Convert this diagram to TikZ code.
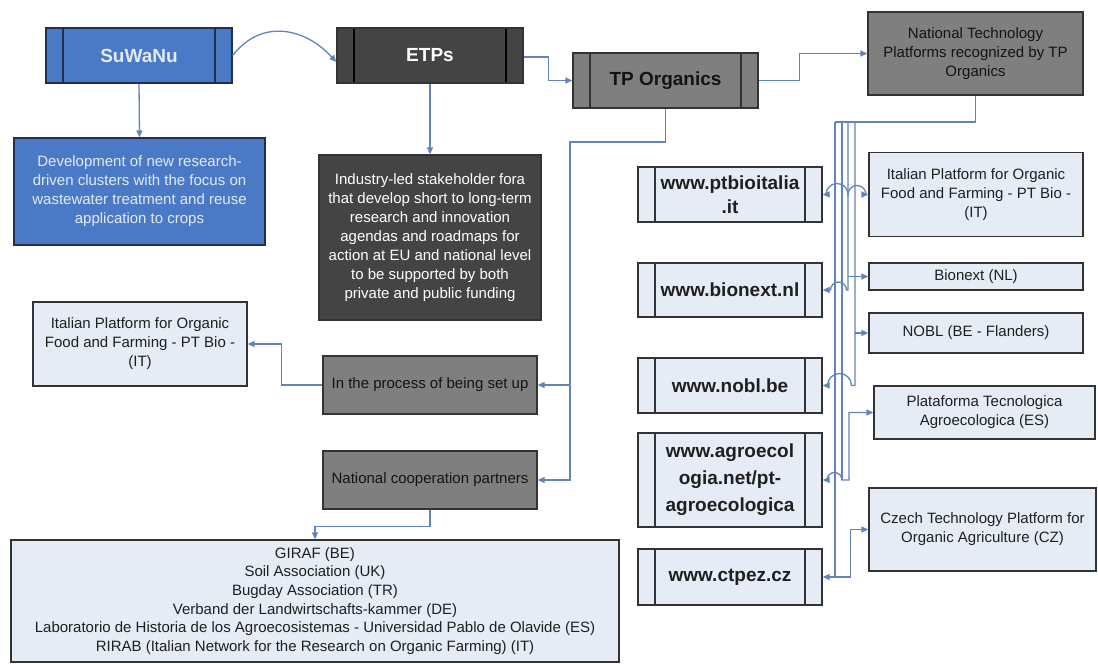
\documentclass[tikz,border=0pt]{standalone}
\usepackage{fontspec}
\setmainfont{Liberation Sans}
\usetikzlibrary{arrows.meta}
\definecolor{cline}{HTML}{6384B9}
\definecolor{cblue}{HTML}{4A7AC6}
\definecolor{cbluetext}{HTML}{E2EAF6}
\definecolor{cnavy}{HTML}{1F2F52}
\definecolor{cdark}{HTML}{444444}
\definecolor{cgray}{HTML}{7F7F7F}
\definecolor{clight}{HTML}{E6ECF5}
\definecolor{cborder}{HTML}{333333}
\begin{document}
\begin{tikzpicture}[x=1pt,y=-1pt,
  >={Triangle[length=7pt,width=6pt]},
  box/.style={draw=cborder, line width=1.3pt, inner sep=0pt, align=center,
    font=\fontsize{15}{19}\selectfont, text=black!88},
  lightbox/.style={box, fill=clight},
  graybox/.style={box, fill=cgray, text=black!92},
  darkbox/.style={box, fill=cdark, text=white!88},
  bluebox/.style={box, fill=cblue, draw=cnavy, text=cbluetext},
  title/.style={font=\fontsize{19}{24}\selectfont\bfseries},
  sub/.style={path picture={
    \draw[#1,line width=1.3pt] ([xshift=17pt]path picture bounding box.north west) -- ([xshift=17pt]path picture bounding box.south west);
    \draw[#1,line width=1.3pt] ([xshift=-17pt]path picture bounding box.north east) -- ([xshift=-17pt]path picture bounding box.south east);}},
  sub/.default=cborder,
  conn/.style={draw=cline, line width=1.3pt}
]
\useasboundingbox[fill=white] (0,0) rectangle (1098,664);

% top row
\node[bluebox, title, sub=cnavy, minimum width=186pt, minimum height=55pt] (suwanu) at (139,55.5) {SuWaNu};
\node[darkbox, title, sub=black, minimum width=186pt, minimum height=55pt] (etps) at (430,55.5) {ETPs};
\node[graybox, title, sub, minimum width=185pt, minimum height=55pt] (tpo) at (665.5,80.5) {TP Organics};
\node[graybox, minimum width=215pt, minimum height=83pt] (ntp) at (975.5,53.5) {National Technology\\Platforms recognized by TP\\Organics};

% left column
\node[bluebox, minimum width=251pt, minimum height=107pt] (dev) at (139.5,191.5) {Development of new research-\\driven clusters with the focus on\\wastewater treatment and reuse\\application to crops};
\node[darkbox, minimum width=222pt, minimum height=165pt] (ind) at (430,237.5) {Industry-led stakeholder fora\\that develop short to long-term\\research and innovation\\agendas and roadmaps for\\action at EU and national level\\to be supported by both\\private and public funding};
\node[lightbox, minimum width=214pt, minimum height=84pt] (itl) at (140,344) {Italian Platform for Organic\\Food and Farming - PT Bio -\\(IT)};
\node[graybox, minimum width=214pt, minimum height=58pt] (proc) at (430,385) {In the process of being set up};
\node[graybox, minimum width=214pt, minimum height=58pt] (ncp) at (430,480) {National cooperation partners};
\node[lightbox, minimum width=608pt, minimum height=122pt, font=\fontsize{15}{18.7}\selectfont] (bot) at (315,601) {GIRAF (BE)\\Soil Association (UK)\\Bugday Association (TR)\\Verband der Landwirtschafts-kammer (DE)\\Laboratorio de Historia de los Agroecosistemas - Universidad Pablo de Olavide (ES)\\RIRAB (Italian Network for the Research on Organic Farming) (IT)};

% websites
\node[lightbox, title, sub, minimum width=184pt, minimum height=55pt] (ptb) at (730,194.5) {www.ptbioitalia\\.it};
\node[lightbox, title, sub, minimum width=184pt, minimum height=54pt] (bnx) at (730,290) {www.bionext.nl};
\node[lightbox, title, sub, minimum width=184pt, minimum height=55pt] (nob) at (730,385.5) {www.nobl.be};
\node[lightbox, title, sub, minimum width=184pt, minimum height=94pt, font=\fontsize{19}{27}\selectfont\bfseries] (agr) at (730,480) {www.agroecol\\ogia.net/pt-\\agroecologica};
\node[lightbox, title, sub, minimum width=184pt, minimum height=56pt] (ctp) at (730,577) {www.ctpez.cz};

% national platforms
\node[lightbox, minimum width=214pt, minimum height=84pt] (itr) at (976,194.5) {Italian Platform for Organic\\Food and Farming - PT Bio -\\(IT)};
\node[lightbox, minimum width=214pt, minimum height=27pt] (bnl) at (976,276.5) {Bionext (NL)};
\node[lightbox, minimum width=214pt, minimum height=40pt] (nbl) at (976,333) {NOBL (BE - Flanders)};
\node[lightbox, minimum width=221pt, minimum height=53pt] (pla) at (984.5,412.5) {Plataforma Tecnologica\\Agroecologica (ES)};
\node[lightbox, minimum width=227pt, minimum height=83pt] (cze) at (982.5,529.5) {Czech Technology Platform for\\Organic Agriculture (CZ)};

% connectors, top row
\draw[conn,->] (suwanu.east) .. controls (262,18) and (305,28) .. ([yshift=-6.5pt]etps.west);
\draw[conn,->] ([yshift=-1.5pt]etps.east) -- ++(25,0) |- (tpo.west);
\draw[conn,->] (tpo.east) -- ++(41,0) |- (ntp.west);
\draw[conn,->] (suwanu.south) -- (dev.north);
\draw[conn,->] (etps.south) -- (ind.north);

% TP Organics to the left column
\coordinate (j1) at (570,142);
\draw[conn,->] (tpo.south) |- (j1) |- (ncp.east);
\draw[conn,->] (j1 |- proc.east) -- (proc.east);
\draw[conn,->] (proc.west) -- ++(-41,0) |- (itl.east);
\draw[conn,->] (ncp.south) -- ++(0,17) -| (bot.north);

% NTP bus
\coordinate (b1) at (835,122);
\coordinate (b2) at (842,122);
\coordinate (b3) at (848,122);
\coordinate (b4) at (855,122);
\draw[conn] (ntp.south) |- (b1);
\draw[conn] (b1) -- (b1 |- ctp.east);
\draw[conn] (b2) -- (b2 |- agr.east);

% ptbioitalia <-> Italian platform
\draw[conn,<->] (ptb.east) -- (826,194.5) arc[start angle=180,end angle=360,radius=11]
  arc[start angle=180,end angle=360,radius=9] -- (itr.west);

% bionext
\draw[conn,->] (b3) -- (848,290) -- (846.5,290) arc[start angle=0,end angle=-180,radius=8] -- (bnx.east);
\draw[conn,->] (848,276.5) -- (bnl.west);

% nobl
\draw[conn,->] (b4) -- (855,385.5) -- (851.5,385.5) arc[start angle=0,end angle=-180,radius=12] -- (nob.east);
\draw[conn,->] (855,333) -- (nbl.west);

% agroecologia <-> Plataforma
\draw[conn,<->] (pla.west) -| (849,480) -- (842,480) arc[start angle=0,end angle=-180,radius=7.5] -- (agr.east);

% ctpez <-> Czech
\draw[conn,<->] (ctp.east) -- ++(28,0) |- (cze.west);
\end{tikzpicture}
\end{document}
